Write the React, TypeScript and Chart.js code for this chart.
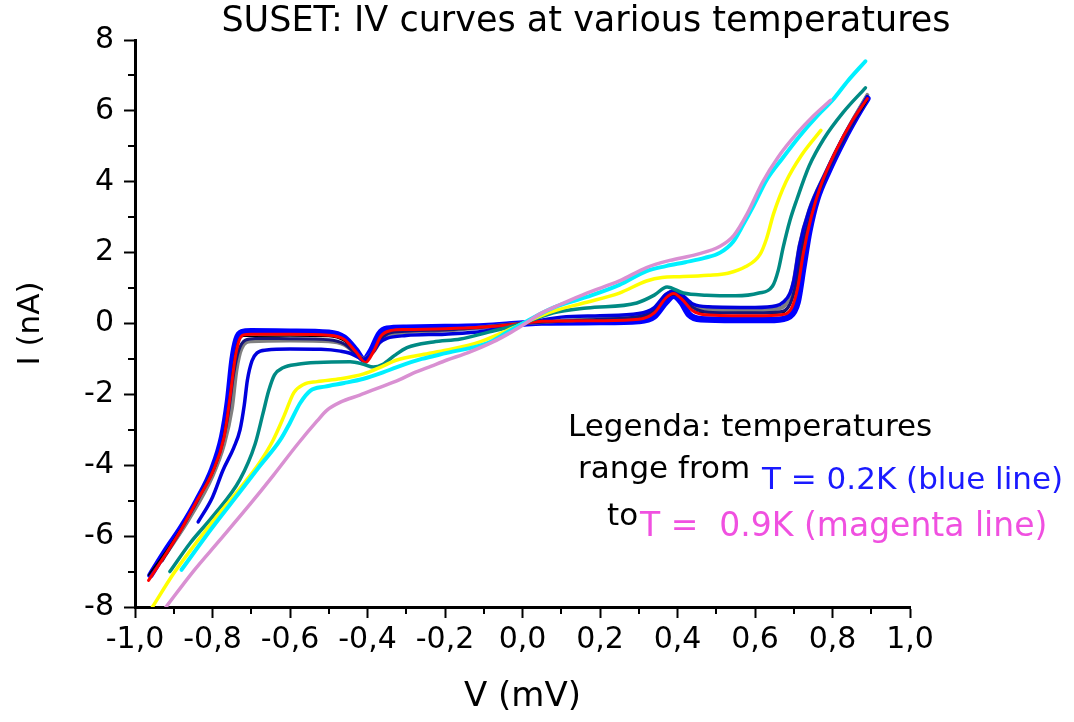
import React, { useEffect, useRef } from "react";
import { Chart, registerables } from "chart.js";

Chart.register(...registerables);

const TITLE = "SUSET: IV curves at various temperatures";
const X_LABEL = "V (mV)";
const Y_LABEL = "I (nA)";
const X_MIN = -1;
const X_MAX = 1;
const X_STEP = 0.2;
const Y_MIN = -8;
const Y_MAX = 8;
const Y_STEP = 2;

const NOTE_BLACK_1 = "Legenda: temperatures";
const NOTE_BLACK_2 = "range from";
const NOTE_BLACK_3 = "to";
const NOTE_BLUE = "T = 0.2K (blue line)";
const NOTE_MAGENTA = "T =  0.9K (magenta line)";

// 0.2 K (thick blue)
const BLUE_V = [-0.96,-0.92,-0.88,-0.84,-0.80,-0.775,-0.76,-0.748,-0.738,-0.725,-0.70,-0.60,-0.50,-0.46,-0.43,-0.41,-0.39,-0.37,-0.35,-0.30,-0.20,-0.10,0.00,0.05,0.20,0.30,0.34,0.37,0.39,0.41,0.43,0.46,0.55,0.65,0.69,0.71,0.725,0.74,0.76,0.79,0.83,0.86,0.89];
const BLUE_I = [-7.1,-6.4,-5.75,-5.0,-4.1,-3.2,-2.2,-1.0,-0.45,-0.25,-0.22,-0.23,-0.26,-0.4,-0.75,-1.02,-0.75,-0.3,-0.15,-0.12,-0.1,-0.08,0,0.03,0.04,0.07,0.2,0.6,0.78,0.6,0.25,0.12,0.1,0.1,0.2,0.6,1.6,2.6,3.5,4.3,5.2,5.8,6.35];

const RED_V = [-0.965,-0.92,-0.88,-0.84,-0.80,-0.77,-0.755,-0.742,-0.732,-0.72,-0.70,-0.60,-0.50,-0.46,-0.43,-0.405,-0.385,-0.365,-0.34,-0.30,-0.20,-0.10,0,0.05,0.20,0.30,0.34,0.37,0.39,0.41,0.44,0.47,0.60,0.67,0.695,0.71,0.725,0.745,0.77,0.81,0.85,0.89];
const RED_I = [-7.25,-6.5,-5.8,-5.0,-4.2,-3.2,-2.1,-1.0,-0.5,-0.32,-0.3,-0.3,-0.33,-0.45,-0.8,-1.1,-0.8,-0.35,-0.2,-0.17,-0.15,-0.1,0,0.06,0.08,0.12,0.3,0.72,0.85,0.7,0.35,0.25,0.22,0.25,0.45,1.0,2.0,3.0,3.9,4.9,5.7,6.35];

const BLACK_V = [-0.965,-0.90,-0.84,-0.78,-0.76,-0.745,-0.735,-0.72,-0.6,-0.5,-0.46,-0.43,-0.405,-0.385,-0.365,-0.34,-0.2,0,0.2,0.3,0.34,0.37,0.39,0.41,0.44,0.47,0.6,0.67,0.69,0.705,0.72,0.745,0.78,0.83,0.89];
const BLACK_I = [-7.1,-6.1,-5.0,-3.6,-2.4,-1.1,-0.55,-0.36,-0.35,-0.37,-0.5,-0.8,-1.05,-0.8,-0.4,-0.25,-0.18,0,0.1,0.15,0.32,0.7,0.82,0.7,0.38,0.3,0.28,0.3,0.5,1.0,2.0,3.1,4.1,5.2,6.3];

const GRAY_V = [-0.92,-0.86,-0.80,-0.77,-0.75,-0.738,-0.725,-0.70,-0.6,-0.5,-0.46,-0.43,-0.41,-0.385,-0.36,-0.33,-0.2,0,0.2,0.3,0.34,0.37,0.39,0.41,0.44,0.48,0.6,0.66,0.685,0.70,0.715,0.74,0.78,0.83,0.89];
const GRAY_I = [-6.5,-5.5,-4.3,-3.4,-2.4,-1.3,-0.7,-0.5,-0.48,-0.5,-0.6,-0.85,-1.0,-0.8,-0.4,-0.28,-0.2,0,0.15,0.25,0.4,0.8,0.9,0.78,0.5,0.4,0.38,0.42,0.65,1.2,2.2,3.2,4.2,5.3,6.45];

const NAVY_V = [-0.93,-0.88,-0.82,-0.78,-0.76,-0.745,-0.732,-0.715,-0.69,-0.6,-0.5,-0.46,-0.43,-0.41,-0.385,-0.36,-0.33,-0.2,0,0.2,0.3,0.34,0.37,0.39,0.41,0.44,0.48,0.6,0.665,0.69,0.705,0.72,0.745,0.78,0.83,0.89];
const NAVY_I = [-6.7,-5.8,-4.6,-3.6,-2.6,-1.4,-0.75,-0.47,-0.42,-0.43,-0.46,-0.58,-0.85,-1.0,-0.8,-0.38,-0.24,-0.18,0,0.12,0.2,0.36,0.78,0.88,0.76,0.45,0.32,0.3,0.33,0.55,1.1,2.1,3.1,4.1,5.2,6.4];

const MIDBLUE_V = [-0.837,-0.80,-0.773,-0.745,-0.729,-0.718,-0.71,-0.698,-0.685,-0.66,-0.6,-0.52,-0.47,-0.445,-0.425,-0.41,-0.39,-0.37,-0.35,-0.30,-0.2,-0.1,0,0.1,0.2,0.3,0.34,0.37,0.39,0.41,0.44,0.48,0.6,0.655,0.675,0.69,0.70,0.715,0.74,0.78,0.83,0.89];
const MIDBLUE_I = [-5.6,-4.9,-4.14,-3.5,-3.0,-2.3,-1.6,-1.05,-0.83,-0.75,-0.72,-0.73,-0.78,-0.84,-0.95,-1.02,-0.85,-0.55,-0.42,-0.34,-0.3,-0.22,0,0.18,0.22,0.28,0.45,0.82,0.92,0.82,0.55,0.47,0.45,0.5,0.62,0.85,1.2,2.2,3.2,4.2,5.3,6.4];

const TEAL_V = [-0.91,-0.858,-0.80,-0.729,-0.69,-0.67,-0.655,-0.64,-0.618,-0.58,-0.53,-0.445,-0.41,-0.385,-0.36,-0.33,-0.298,-0.23,-0.16,-0.09,0,0.08,0.166,0.295,0.34,0.373,0.415,0.475,0.55,0.61,0.645,0.66,0.673,0.69,0.708,0.74,0.777,0.827,0.885];
const TEAL_I = [-7.0,-6.2,-5.45,-4.4,-3.4,-2.55,-1.9,-1.45,-1.25,-1.15,-1.1,-1.08,-1.15,-1.23,-1.15,-0.9,-0.68,-0.52,-0.44,-0.25,0,0.3,0.44,0.58,0.8,1.03,0.86,0.8,0.78,0.86,1.05,1.5,2.16,2.9,3.5,4.45,5.2,5.95,6.65];

const YELLOW_V = [-0.955,-0.9,-0.85,-0.8,-0.729,-0.68,-0.644,-0.615,-0.59,-0.565,-0.53,-0.47,-0.41,-0.36,-0.324,-0.26,-0.195,-0.11,-0.05,0,0.08,0.166,0.25,0.32,0.36,0.406,0.48,0.53,0.575,0.613,0.63,0.648,0.68,0.72,0.77];
const YELLOW_I = [-8.0,-7.05,-6.3,-5.6,-4.65,-3.95,-3.3,-2.6,-1.95,-1.72,-1.64,-1.56,-1.42,-1.2,-1.03,-0.88,-0.75,-0.52,-0.25,0,0.35,0.6,0.86,1.2,1.3,1.32,1.36,1.42,1.6,1.95,2.4,3.1,4.0,4.75,5.45];

const CYAN_V = [-0.88,-0.8,-0.729,-0.68,-0.626,-0.6,-0.574,-0.548,-0.51,-0.46,-0.41,-0.36,-0.324,-0.26,-0.195,-0.09,-0.04,0,0.08,0.166,0.25,0.32,0.37,0.42,0.47,0.51,0.543,0.57,0.595,0.63,0.67,0.716,0.76,0.80,0.84,0.885];
const CYAN_I = [-6.95,-5.75,-4.75,-4.05,-3.3,-2.8,-2.25,-1.9,-1.78,-1.68,-1.56,-1.38,-1.23,-1.0,-0.83,-0.55,-0.25,0,0.45,0.75,1.09,1.48,1.62,1.73,1.85,2.0,2.3,2.8,3.3,4.05,4.65,5.3,5.85,6.3,6.85,7.4];

// 0.9 K (magenta)
const PINK_V = [-0.92,-0.85,-0.78,-0.703,-0.644,-0.58,-0.53,-0.505,-0.47,-0.42,-0.368,-0.32,-0.282,-0.235,-0.195,-0.14,-0.076,-0.03,0,0.05,0.1,0.166,0.25,0.32,0.38,0.45,0.51,0.545,0.58,0.62,0.66,0.707,0.75,0.795];
const PINK_I = [-8.0,-7.0,-6.1,-5.1,-4.3,-3.4,-2.75,-2.45,-2.22,-2.02,-1.8,-1.6,-1.4,-1.2,-1.03,-0.82,-0.52,-0.25,-0.05,0.3,0.55,0.86,1.2,1.58,1.78,1.95,2.18,2.48,3.1,4.0,4.7,5.35,5.85,6.3];

const FONT = '"DejaVu Sans", "Liberation Sans", Arial, sans-serif';

const pts = (v: number[], i: number[]) => v.map((x, k) => ({ x, y: i[k] }));

const series = (label: string, v: number[], i: number[], color: string, width: number, order: number) => ({
  label,
  data: pts(v, i),
  borderColor: color,
  backgroundColor: color,
  borderWidth: width,
  pointRadius: 0,
  fill: false,
  cubicInterpolationMode: "monotone" as const,
  borderCapStyle: "round" as const,
  borderJoinStyle: "round" as const,
  order,
});

const decorPlugin = {
  id: "decor",
  afterDraw(chart: any) {
    const ctx = chart.ctx as CanvasRenderingContext2D;
    const xs = chart.scales.x;
    const ys = chart.scales.y;
    ctx.save();
    ctx.strokeStyle = "#000";
    ctx.lineWidth = 2;
    ctx.beginPath();
    for (let v = X_MIN + X_STEP / 2; v < X_MAX; v += X_STEP) {
      const p = Math.round(xs.getPixelForValue(v));
      ctx.moveTo(p, ys.bottom);
      ctx.lineTo(p, ys.bottom + 7);
    }
    for (let v = Y_MIN + Y_STEP / 2; v < Y_MAX; v += Y_STEP) {
      const p = Math.round(ys.getPixelForValue(v));
      ctx.moveTo(xs.left - 7, p);
      ctx.lineTo(xs.left, p);
    }
    ctx.stroke();

    ctx.fillStyle = "#000";
    ctx.textBaseline = "middle";
    ctx.textAlign = "center";
    ctx.font = `35px ${FONT}`;
    ctx.fillText(TITLE, 586, 22);

    ctx.textAlign = "left";
    ctx.font = `31px ${FONT}`;
    ctx.fillText(NOTE_BLACK_1, 568, 428);
    ctx.fillText(NOTE_BLACK_2, 578, 470);
    ctx.fillText(NOTE_BLACK_3, 607, 517);
    ctx.fillStyle = "#1a1aff";
    ctx.fillText(NOTE_BLUE, 762, 481);
    ctx.fillStyle = "#f050e0";
    ctx.font = `33px ${FONT}`;
    ctx.fillText(NOTE_MAGENTA, 640, 527);
    ctx.restore();
  },
};

export default function App() {
  const ref = useRef<HTMLCanvasElement | null>(null);
  useEffect(() => {
    if (!ref.current) return;
    const chart = new Chart(ref.current, {
      type: "line",
      data: {
        datasets: [
          series("T = 0.9K", PINK_V, PINK_I, "#d990d2", 3.5, 0),
          series("cyan", CYAN_V, CYAN_I, "#00f0ff", 4, 1),
          series("yellow", YELLOW_V, YELLOW_I, "#ffff00", 3.5, 2),
          series("teal", TEAL_V, TEAL_I, "#008a84", 3.5, 3),
          series("red", RED_V, RED_I, "#ff0000", 3, 4),
          series("midblue", MIDBLUE_V, MIDBLUE_I, "#0000dd", 3.5, 5),
          series("navy", NAVY_V, NAVY_I, "#15157a", 3, 6),
          series("black", BLACK_V, BLACK_I, "#000000", 1.5, 7),
          series("gray", GRAY_V, GRAY_I, "#808080", 4, 8),
          series("T = 0.2K", BLUE_V, BLUE_I, "#0000ff", 6.5, 9),
        ],
      },
      options: {
        responsive: false,
        devicePixelRatio: 1,
        animation: false,
        layout: { padding: { left: 0, right: 164, top: 40, bottom: 0 } },
        plugins: { legend: { display: false }, tooltip: { enabled: false }, title: { display: false } },
        scales: {
          x: {
            type: "linear",
            min: X_MIN,
            max: X_MAX,
            ticks: {
              stepSize: X_STEP,
              autoSkip: false,
              maxRotation: 0,
              color: "#000",
              padding: 4,
              font: { family: FONT, size: 30 },
              callback: (v: any) => {
                const n = Math.abs(Number(v)) < 1e-9 ? 0 : Number(v);
                return n.toFixed(1).replace(".", ",");
              },
            },
            grid: { drawOnChartArea: false, drawTicks: true, tickLength: 11, tickWidth: 2, tickColor: "#000" },
            border: { display: true, color: "#000", width: 3 },
            title: { display: true, text: X_LABEL, color: "#000", font: { family: FONT, size: 34 }, padding: { top: 4, bottom: 4 } },
            afterFit: (s: any) => { s.height = 115; },
          },
          y: {
            type: "linear",
            min: Y_MIN,
            max: Y_MAX,
            ticks: {
              stepSize: Y_STEP,
              color: "#000",
              padding: 10,
              font: { family: FONT, size: 30 },
              callback: (v: any) => String(Math.round(Number(v))),
            },
            grid: { drawOnChartArea: false, drawTicks: true, tickLength: 11, tickWidth: 2, tickColor: "#000" },
            border: { display: true, color: "#000", width: 3 },
            title: { display: true, text: Y_LABEL, color: "#000", font: { family: FONT, size: 31 }, padding: { top: 12, bottom: 12 } },
            afterFit: (s: any) => { s.width = 135; },
          },
        },
      },
      plugins: [decorPlugin],
    });
    return () => chart.destroy();
  }, []);
  return (
    <div style={{ position: "fixed", left: 0, top: 0, width: 1074, height: 722, background: "#fff" }}>
      <canvas ref={ref} width={1074} height={722} />
    </div>
  );
}
